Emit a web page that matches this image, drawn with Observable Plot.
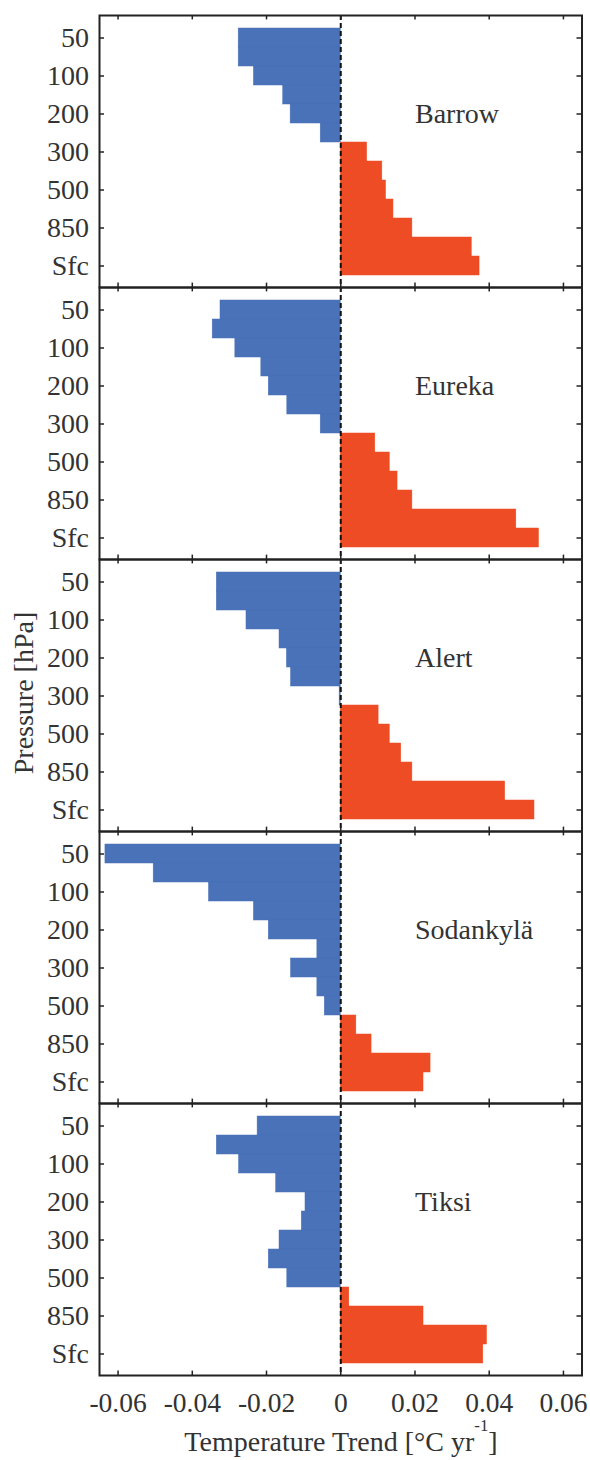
<!DOCTYPE html>
<html><head><meta charset="utf-8">
<script src="https://cdn.jsdelivr.net/npm/d3@7"></script>
<script src="https://cdn.jsdelivr.net/npm/@observablehq/plot@0.6"></script>
<style>
body{margin:0;background:#fff;}
#wrap{position:relative;width:590px;height:1460px;font-family:"Liberation Serif","Times New Roman",serif;color:#333;}
#chart{position:absolute;left:0;top:0;}
#chart svg, #chart svg text{font-family:"Liberation Serif","Times New Roman",serif !important;}
#ylab{position:absolute;left:24px;top:693px;transform:translate(-50%,-50%) rotate(-90deg);font-size:28px;white-space:nowrap;line-height:1;}
#xlab{position:absolute;left:341px;top:1428px;transform:translateX(-50%);font-size:28px;white-space:nowrap;line-height:1;}
#xlab sup{font-size:0.6em;position:relative;top:-0.1em;vertical-align:top;line-height:0;}
</style></head><body>
<div id="wrap"><div id="chart"></div><div id="ylab">Pressure [hPa]</div><div id="xlab">Temperature Trend [°C yr<sup>-1</sup>]</div></div>
<script>
const levels = ["50","70","100","150","200","250","300","400","500","700","850","925","Sfc"];
const levelTicks = ["50","100","200","300","500","850","Sfc"];
const xTicks = [-0.06,-0.04,-0.02,0,0.02,0.04,0.06];
const stations = ["Barrow","Eureka","Alert","Sodankylä","Tiksi"];
const barrow    = [-0.0275,-0.0275,-0.0234,-0.0155,-0.0135,-0.0054, 0.0071, 0.0112, 0.0122, 0.0142, 0.0193, 0.0353, 0.0374];
const eureka    = [-0.0324,-0.0345,-0.0284,-0.0214,-0.0194,-0.0144,-0.0054, 0.0093, 0.0132, 0.0153, 0.0193, 0.0473, 0.0534];
const alert_    = [-0.0334,-0.0334,-0.0254,-0.0165,-0.0145,-0.0134,-0.0003, 0.0102, 0.0132, 0.0163, 0.0193, 0.0443, 0.0522];
const sodankyla = [-0.0634,-0.0504,-0.0355,-0.0234,-0.0194,-0.0063,-0.0134,-0.0063,-0.0043, 0.0042, 0.0083, 0.0242, 0.0223];
const tiksi     = [-0.0224,-0.0334,-0.0274,-0.0174,-0.0095,-0.0105,-0.0165,-0.0194,-0.0144, 0.0023, 0.0223, 0.0394, 0.0384];
const trends = [barrow, eureka, alert_, sodankyla, tiksi];

const W = 590, H = 1460, mL = 99, mR = 8.5, mT = 13, mB = 84;
const innerW = W - mL - mR;
const facetH = (H - mT - mB) / stations.length;
const blue = "#4a72b8", red = "#ee4c24", ink = "#222";
const rows = stations.flatMap((s, i) => levels.map((l, j) => ({station: s, level: l, value: trends[i][j]})));
const fmt = d => d === 0 ? "0" : d.toFixed(2);
const font = "'Liberation Serif','Times New Roman',serif";

const chart = Plot.plot({
  width: W, height: H,
  marginLeft: mL, marginRight: mR, marginTop: mT, marginBottom: mB,
  style: {fontFamily: font, fontSize: "28px", color: "#333", background: "transparent", overflow: "visible"},
  x: {domain: [-0.065, 0.065]},
  y: {domain: levels, paddingInner: 0, paddingOuter: 0.4},
  fy: {domain: stations, padding: 0, axis: null},
  marks: [
    Plot.barX(rows, {x: "value", y: "level", fy: "station", fill: d => d.value >= 0 ? red : blue, stroke: d => d.value >= 0 ? red : blue, strokeWidth: 0.5}),
    Plot.ruleX([0], {stroke: "#111", strokeWidth: 2, strokeDasharray: "5 3"}),
    Plot.frame({stroke: ink, strokeWidth: 2}),
    Plot.tickX(xTicks, {x: d => d, stroke: ink, strokeWidth: 1.5, insetBottom: facetH - 5}),
    Plot.tickX(xTicks, {x: d => d, stroke: ink, strokeWidth: 1.5, insetTop: facetH - 5}),
    Plot.tickY(levelTicks, {y: d => d, stroke: ink, strokeWidth: 1.5, insetRight: innerW - 5}),
    Plot.tickY(levelTicks, {y: d => d, stroke: ink, strokeWidth: 1.5, insetLeft: innerW - 5}),
    Plot.axisY(levelTicks, {tickSize: 0, tickPadding: 10.5, label: null, fontSize: 28}),
    Plot.axisX(xTicks, {anchor: "bottom", tickSize: 0, tickPadding: 17, label: null, tickFormat: fmt, fontSize: 27.5}),
    Plot.text(stations, {fy: d => d, text: d => d, x: () => 0.02, y: () => "200", textAnchor: "start", fontSize: 28, fill: "#333"})
  ]
});
document.getElementById("chart").appendChild(chart);
</script>
</body></html>
